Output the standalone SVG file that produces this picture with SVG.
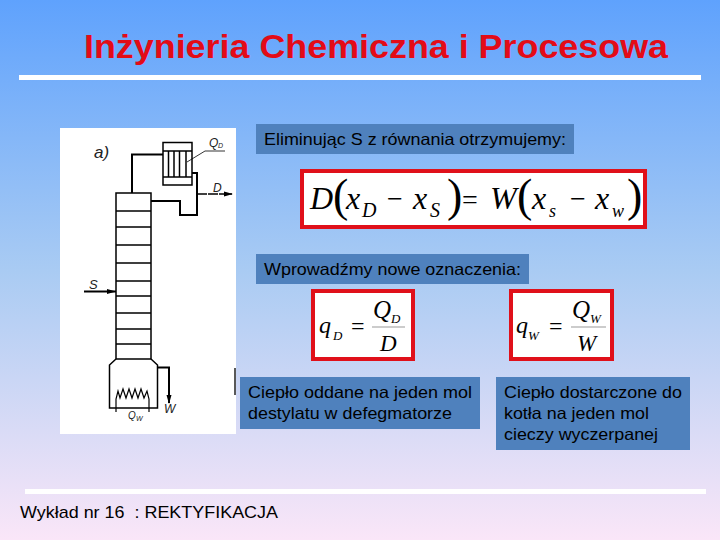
<svg xmlns="http://www.w3.org/2000/svg" width="720" height="540" viewBox="0 0 720 540">
<style>
.s{font-family:"Liberation Sans",Arial,sans-serif;fill:#000;font-size:16.500px;white-space:pre}
.m{font-family:"Liberation Serif","Times New Roman",serif;font-style:italic;fill:#000}
.u{font-family:"Liberation Serif","Times New Roman",serif;fill:#000}
.b{fill:#4f81bd}
.f{fill:#fff;stroke:#e0101a;stroke-width:4}
.k{fill:none;stroke:#000;stroke-width:1.500}
.p{fill:none;stroke:#000;stroke-width:2}
.h{font-family:"Liberation Sans",sans-serif;font-style:italic;fill:#222;font-size:12px}
</style>
<defs>
<linearGradient id="bg" x1="0" y1="0" x2="0" y2="1">
<stop offset="0" stop-color="#5fa2fd"/>
<stop offset="0.5" stop-color="#a9cbf3"/>
<stop offset="1" stop-color="#fae6f8"/>
</linearGradient>
</defs>
<rect width="720" height="540" fill="url(#bg)"/>
<g id="title">
<text x="84" y="58" style="font-family:'Liberation Sans',Arial,sans-serif;font-weight:700;font-size:34px" fill="#e30b17" textLength="584" lengthAdjust="spacingAndGlyphs">Inżynieria Chemiczna i Procesowa</text>
<rect x="19" y="75" width="682" height="5" fill="#fff"/>
</g>
<g id="apparatus">
<rect x="60" y="128" width="176" height="306" fill="#fff"/>
<g class="k">
<path d="M116 193H151V359H116Z"/>
<path d="M116 211H151M116 227H151M116 245H151M116 263H151M116 281H151M116 296H151M116 313H151M116 329H151M116 344H151"/>
<path d="M116 359L109.500 365V408H157.500V365L151 359"/>
<path d="M163 142.500H192V185H163Z"/>
<path d="M163 151H192M163 177H192M168.500 151V177M174 151V177M179.500 151V177M186 151V177"/>
<path class="p" d="M132 193V154.500H163"/>
<path class="p" d="M192 173H197V215H180V201H151"/>
<path d="M197 194H232" stroke-dasharray="10 1"/>
<path class="p" d="M84 291.500H116"/>
<path class="p" d="M158 367.500H169V403"/>
<path d="M116 412V399L118 391L120 398L123 389L126 398L129 389L132 398L135 389L138 398L141 389L144 398L147 391L149 399V412" stroke-width="1.200"/>
<path d="M187 162L205 151H225" stroke-width="0.800"/>
</g>
<path d="M233 194L224 191.500V196.500Z M116 291.500L107 289V294Z M169 404L166.500 395H171.500Z"/>
<text class="h" x="209" y="147">Q</text><text class="h" x="218" y="148" style="font-size:7px">D</text>
<text class="h" x="213" y="192" style="font-size:12px">D</text>
<text class="h" x="89" y="289" style="font-size:13px">S</text>
<text class="h" x="164" y="413" style="font-size:12px">W</text>
<text class="h" x="128" y="419" style="font-size:10px">Q</text><text class="h" x="136" y="421" style="font-size:7px">W</text>
<text class="h" x="94" y="158" style="font-size:17px">a)</text>
<path d="M235 368V395" stroke="#222" stroke-width="1.500"/>
</g>
<g id="label-eliminujac">
<rect class="b" x="256" y="124" width="318" height="30"/>
<text class="s" x="264" y="145" textLength="302" lengthAdjust="spacingAndGlyphs">Eliminując S z równania otrzymujemy:</text>
</g>
<g id="formula-main">
<rect class="f" x="302" y="171" width="343" height="56"/>
<text class="m" x="310" y="209" font-size="32">D</text>
<text class="u" x="333" y="211" font-size="46">(</text>
<text class="m" x="346" y="209" font-size="32">x</text>
<text class="m" x="362" y="217" font-size="20">D</text>
<text class="u" x="387" y="208" font-size="28">−</text>
<text class="m" x="413" y="209" font-size="32">x</text>
<text class="m" x="430" y="217" font-size="20">S</text>
<text class="u" x="447" y="211" font-size="46">)</text>
<text class="u" x="462" y="209" font-size="28">=</text>
<text class="m" x="490" y="209" font-size="32">W</text>
<text class="u" x="517" y="211" font-size="46">(</text>
<text class="m" x="532" y="209" font-size="32">x</text>
<text class="m" x="549" y="217" font-size="18">s</text>
<text class="u" x="570" y="208" font-size="28">−</text>
<text class="m" x="595" y="209" font-size="32">x</text>
<text class="m" x="612" y="217" font-size="18">w</text>
<text class="u" x="627" y="211" font-size="46">)</text>
</g>
<g id="label-wprowadzmy">
<rect class="b" x="256" y="254" width="273" height="30"/>
<text class="s" x="264" y="275" textLength="257" lengthAdjust="spacingAndGlyphs">Wprowadźmy nowe oznaczenia:</text>
</g>
<g id="formula-qd">
<rect class="f" x="313" y="291" width="100" height="68"/>
<text class="m" x="319" y="333" font-size="24">q</text>
<text class="m" x="333" y="340" font-size="13">D</text>
<text class="u" x="351" y="334" font-size="24">=</text>
<text class="m" x="373" y="318" font-size="25">Q</text>
<text class="m" x="391" y="323" font-size="13">D</text>
<line x1="372" y1="327" x2="405" y2="327" stroke="#999"/>
<text class="m" x="380" y="351" font-size="23">D</text>
</g>
<g id="formula-qw">
<rect class="f" x="511" y="291" width="101" height="68"/>
<text class="m" x="516" y="333" font-size="24">q</text>
<text class="m" x="528" y="340" font-size="13">W</text>
<text class="u" x="549" y="334" font-size="24">=</text>
<text class="m" x="572" y="318" font-size="25">Q</text>
<text class="m" x="590" y="323" font-size="13">W</text>
<line x1="571" y1="327" x2="606" y2="327" stroke="#999"/>
<text class="m" x="577" y="351" font-size="23">W</text>
</g>
<g id="label-cieplo-oddane">
<rect class="b" x="240" y="377" width="240" height="52"/>
<text class="s" x="248" y="398" textLength="224" lengthAdjust="spacingAndGlyphs">Ciepło oddane na jeden mol</text>
<text class="s" x="248" y="419" textLength="204" lengthAdjust="spacingAndGlyphs">destylatu w defegmatorze</text>
</g>
<g id="label-cieplo-dostarczone">
<rect class="b" x="496" y="377" width="194" height="73"/>
<text class="s" x="504" y="398" textLength="178" lengthAdjust="spacingAndGlyphs">Ciepło dostarczone do</text>
<text class="s" x="504" y="419" textLength="145" lengthAdjust="spacingAndGlyphs">kotła na jeden mol</text>
<text class="s" x="504" y="440" textLength="154" lengthAdjust="spacingAndGlyphs">cieczy wyczerpanej</text>
</g>
<g id="footer">
<rect x="25" y="489" width="681" height="5" fill="#fff"/>
<text class="s" x="20" y="518" style="font-size:17px" textLength="258" lengthAdjust="spacingAndGlyphs">Wykład nr 16  : REKTYFIKACJA</text>
</g>
</svg>
